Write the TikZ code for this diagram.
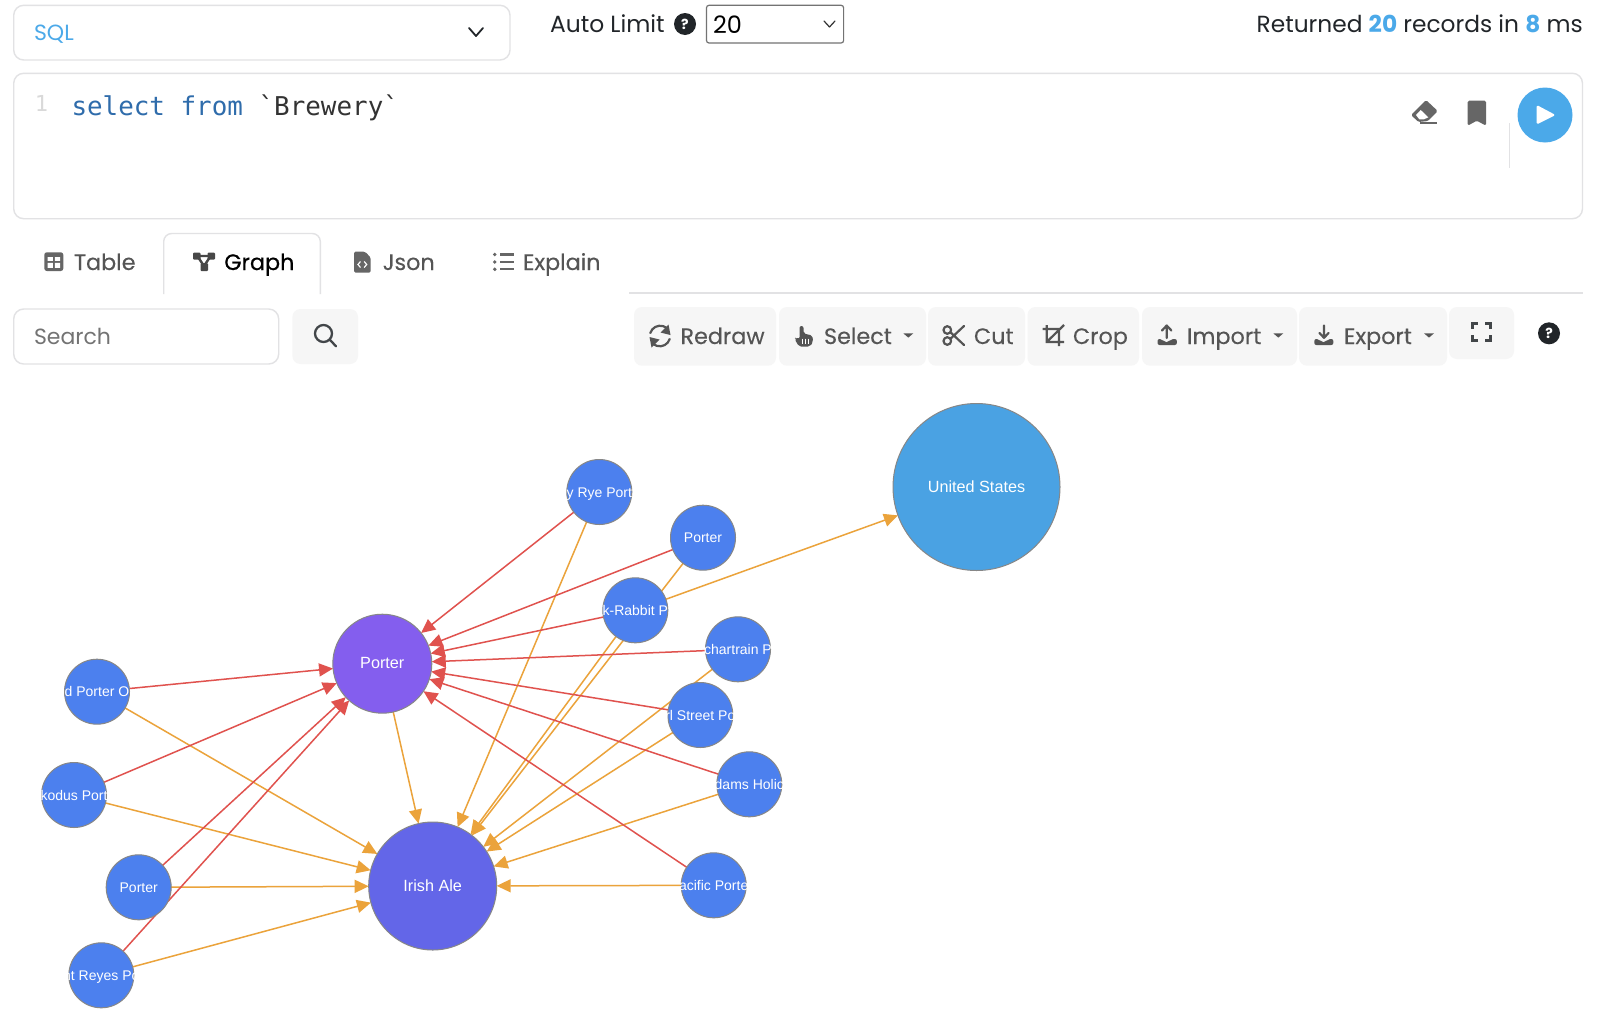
\documentclass[tikz,border=0pt]{standalone}
\usepackage{fontspec}
\setmainfont{Poppins}
\newfontfamily\graphfont{Liberation Sans}
\newfontfamily\codefont{DejaVu Sans Mono}
\newfontfamily\medfont[FakeBold=0.25]{Poppins}
\newfontfamily\semifont[FakeBold=0.6]{Poppins}
\usetikzlibrary{arrows.meta,backgrounds}
\definecolor{uiblue}{HTML}{4BA9E9}
\definecolor{uitext}{HTML}{555555}
\definecolor{uidark}{HTML}{212529}
\definecolor{uifill}{HTML}{F6F6F6}
\definecolor{uiline}{HTML}{E2E2E4}
\definecolor{uiicon}{HTML}{666666}
\definecolor{kwblue}{HTML}{2F6CAB}
\definecolor{edgered}{HTML}{E0524E}
\definecolor{edgeorange}{HTML}{EBA33B}
\definecolor{nodeblue}{HTML}{4C80EE}
\definecolor{nodepurple}{HTML}{845EEE}
\definecolor{nodeindigo}{HTML}{6366E8}
\definecolor{nodesky}{HTML}{4AA2E3}
\newcommand{\fs}[1]{\fontsize{#1}{#1}\selectfont}
\newcommand{\lab}[1]{\makebox[0pt][c]{#1}}
\tikzset{
  x=1pt,y=-1pt,
  gnode/.style={circle,draw=black!47,line width=1pt,inner sep=0pt,outer sep=0pt,text=white,text height=10pt,text depth=0pt,font=\graphfont\fs{14}},
  small/.style={gnode,fill=nodeblue,minimum size=65pt},
  redge/.style={draw=edgered,line width=1.5pt,-{Triangle[length=14pt,width=13pt]}},
  oedge/.style={draw=edgeorange,line width=1.5pt,-{Triangle[length=14pt,width=13pt]}},
  uibox/.style={draw=uiline,line width=1.4pt,fill=white,rounded corners=10pt},
  btn/.style={fill=uifill,rounded corners=8pt},
  lbl/.style={anchor=base west,inner sep=0pt,outer sep=0pt},
  btntext/.style={lbl,text=uitext,font=\medfont\fs{22.3}},
  ico/.style={draw=uitext,line width=2.2pt,line cap=round,line join=round},
  caret/.style={fill=uitext},
}
\begin{document}
\begin{tikzpicture}
\path[use as bounding box] (0,0) rectangle (1600,1023);

% top row
\path[uibox] (13.7,5.3) rectangle (510,60);
\node[lbl,text=uiblue,font=\fs{22}] (sql) at (34,40) {SQL};
\draw[uidark,line width=1.8pt,line cap=round,line join=round] (469,28) -- (476,36) -- (483,28);
\node[lbl,text=uidark,font=\fs{23.4}] (autolimit) at (550,32) {Auto Limit};
\fill[uidark] (685,24) circle (11);
\node[text=white,font=\bfseries\fs{14},inner sep=0pt] (autohelp) at (685,24) {?};
\draw[draw=black!55,fill=white,line width=1.2pt,rounded corners=2.5pt] (706.5,5.3) rectangle (843.6,43);
\node[lbl,text=black,font=\fs{24}] (limit) at (713,33) {20};
\draw[black!80,line width=1.2pt,line cap=round,line join=round] (824,21) -- (829.5,27) -- (835,21);
\node[anchor=base east,inner sep=0pt,text=uidark,font=\fs{23.3}] (returned) at (1583,32) {Returned {\color{uiblue}\bfseries 20} records in {\color{uiblue}\bfseries 8} ms};

% editor
\path[uibox] (13.7,73.3) rectangle (1582.5,218.7);
\node[text=black!15,font=\codefont\fs{22},inner sep=0pt] (lineno) at (41.5,103) {1};
\node[lbl,font=\codefont\fs{25.9}] (code) at (71.5,115) {{\color{kwblue}select from} {\color{black!80}`Brewery`}};
% eraser
\fill[uiicon,rounded corners=1.5pt] (1411,115) -- (1426,100) -- (1437.7,111) -- (1428,121) -- (1418.5,122) -- cycle;
\fill[white] (1416,115) -- (1420.7,110) -- (1428.3,117.3) -- (1424,119.3) -- (1419.3,119.3) -- cycle;
\draw[uiicon,line width=2pt] (1420,122.5) -- (1437.3,122.5);
% bookmark
\fill[uiicon,rounded corners=1.5pt] (1467.7,100.7) -- (1486,100.7) -- (1486,125.7) -- (1476.8,120.7) -- (1467.7,125.7) -- cycle;
\draw[uiline,line width=1.4pt] (1509.7,123) -- (1509.7,168);
\fill[uiblue] (1545,115) circle (27.5);
\fill[white,rounded corners=1.5pt] (1536.7,105) -- (1555.5,115) -- (1536.7,124.5) -- cycle;

% tabs
\draw[uiline,line width=1.4pt,rounded corners=8pt] (163.7,294) -- (163.7,233.5) -- (320.3,233.5) -- (320.3,294);
\draw[uiline,line width=2pt] (629,293) -- (1583,293);
% table icon
\fill[uiicon,rounded corners=2.5pt] (44.3,252.3) rectangle (63.3,271);
\fill[white] (47.5,257) rectangle (52.8,260.8) (54.8,257) rectangle (60.1,260.8) (47.5,262.8) rectangle (52.8,267.8) (54.8,262.8) rectangle (60.1,267.8);
\node[btntext] (ttable) at (74,270) {Table};
% graph icon
\fill[black!72,rounded corners=1pt] (193,252.5) rectangle (200.5,259.5) (207.5,252.5) rectangle (215,259.5) (200.5,263) rectangle (208,271);
\draw[black!72,line width=2.4pt] (198,256) -- (210,256) (198,257) -- (204,266) (210,257) -- (204,266);
\node[lbl,text=black,font=\semifont\fs{22.3}] (tgraph) at (224.3,270) {Graph};
% json icon
\fill[uiicon,rounded corners=1.5pt] (354,251.7) -- (365,251.7) -- (370.7,257.5) -- (370.7,272.7) -- (354,272.7) -- cycle;
\draw[white,line width=1.2pt] (360.5,261.5) -- (358,264.5) -- (360.5,267.5) (364.2,261.5) -- (366.7,264.5) -- (364.2,267.5);
\node[btntext] (tjson) at (382.7,270) {Json};
% explain icon
\fill[uiicon] (494.8,254.5) circle (1.9) (494.8,262) circle (1.9) (494.8,269.3) circle (1.9);
\draw[uiicon,line width=2.2pt] (500,254.5) -- (514,254.5) (500,262) -- (514,262) (500,269.3) -- (514,269.3);
\node[btntext] (texplain) at (523,270) {Explain};

% search
\path[uibox] (13.7,309) rectangle (278.7,364);
\node[lbl,text=black!55,font=\fs{22}] (search) at (34,344) {Search};
\path[btn] (292.4,309) rectangle (358,364);
\draw[uidark!85,line width=2.3pt,line cap=round] (323.5,333.5) circle (8.5) (329.7,339.7) -- (336,346.2);

% toolbar
\path[btn] (634,307) rectangle (776,365.7);
\path[btn] (779,307) rectangle (926,365.7);
\path[btn] (928,307) rectangle (1025,365.7);
\path[btn] (1027.5,307) rectangle (1139,365.7);
\path[btn] (1142,307) rectangle (1297,365.7);
\path[btn] (1299,307) rectangle (1447,365.7);
\path[btn] (1449,307) rectangle (1514,359);
% redraw icon
\draw[ico] (650.3,333) arc (197:320:10.3);
\draw[ico] (669.7,339) arc (17:140:10.3);
\fill[uitext] (668.5,324.5) -- (670.5,335) -- (660.5,332.5) -- cycle (651.5,347.5) -- (649.5,337) -- (659.5,339.5) -- cycle;
\node[btntext] (bredraw) at (680.5,344) {Redraw};
% hand icon
\fill[uitext,rounded corners=2pt] (799.5,326) -- (803.5,326) -- (803.5,333.5) -- (812.5,335.5) -- (813,342) -- (810,346.5) -- (799,346.5) -- (794.5,339) -- (796,337) -- (799.5,339) -- cycle;
\draw[white,line width=.9pt] (802.5,338.5) -- (802.5,344) (805.5,338.5) -- (805.5,344) (808.5,338.5) -- (808.5,344);
\node[btntext] (bselect) at (824,344) {Select};
\fill[caret] (903.3,333.3) -- (913.3,333.3) -- (908.3,337.6) -- cycle;
% scissors icon
\draw[ico] (947.3,330) circle (3.8) (947.3,341) circle (3.8) (950.5,332.3) -- (964,345) (950.5,338.7) -- (964,326);
\node[btntext] (bcut) at (974,344) {Cut};
% crop icon
\draw[ico,line cap=butt,line join=miter] (1046.7,325) -- (1046.7,342) -- (1064,342) (1042.7,329) -- (1059,329) -- (1059,346) (1064,325) -- (1046.7,342);
\node[btntext] (bcrop) at (1073,344) {Crop};
% import icon
\draw[ico] (1166.7,338) -- (1166.7,326) (1162,330.5) -- (1166.7,325.5) -- (1171.4,330.5);
\fill[uitext,rounded corners=2pt] (1157.5,339) -- (1162,339) -- (1164,342) -- (1169,342) -- (1171,339) -- (1176.8,339) -- (1176.8,345) -- (1157.5,345) -- cycle;
\node[btntext] (bimport) at (1187,344) {Import};
\fill[caret] (1273.3,333.3) -- (1283.3,333.3) -- (1278.3,337.6) -- cycle;
% export icon
\draw[ico] (1324,325.5) -- (1324,337) (1319.5,333) -- (1324,337.8) -- (1328.5,333);
\fill[uitext,rounded corners=2pt] (1314.3,339) -- (1319,339) -- (1321,342) -- (1326,342) -- (1328,339) -- (1333.3,339) -- (1333.3,345) -- (1314.3,345) -- cycle;
\node[btntext] (bexport) at (1344,344) {Export};
\fill[caret] (1424,333.3) -- (1434,333.3) -- (1429,337.6) -- cycle;
% fullscreen icon
\draw[uidark!85,line width=2.4pt] (1472.5,329) -- (1472.5,323.5) -- (1478,323.5) (1485,323.5) -- (1490.5,323.5) -- (1490.5,329) (1490.5,335) -- (1490.5,340.5) -- (1485,340.5) (1478,340.5) -- (1472.5,340.5) -- (1472.5,335);
\fill[uidark] (1549,333.3) circle (11);
\node[text=white,font=\bfseries\fs{14},inner sep=0pt] (graphhelp) at (1549,333.3) {?};

% graph nodes
\node[small] (rye) at (599.3,492) {\lab{y Rye Port}};
\node[small] (porterb) at (703,537.7) {\lab{Porter}};
\node[small] (rabbit) at (635.3,610.3) {\lab{k-Rabbit P}};
\node[small] (chartrain) at (738,649.3) {\lab{chartrain P}};
\node[small] (street) at (700.3,715) {\lab{rl Street Po}};
\node[small] (adams) at (749.3,784.3) {\lab{dams Holic}};
\node[small] (pacific) at (713.7,885.3) {\lab{acific Porte}};
\node[small] (oporter) at (97,691.7) {\lab{d Porter O}};
\node[small] (exodus) at (74,795) {\lab{kodus Port}};
\node[small] (porterc) at (138.7,887.3) {\lab{Porter}};
\node[small] (reyes) at (101.3,975.3) {\lab{nt Reyes Po}};
\node[gnode,fill=nodepurple,minimum size=99pt,font=\graphfont\fs{16.2}] (porter) at (382.3,663.7) {Porter};
\node[gnode,fill=nodeindigo,minimum size=128pt,font=\graphfont\fs{16.2}] (irish) at (432.7,886) {Irish Ale};
\node[gnode,fill=nodesky,minimum size=167pt,font=\graphfont\fs{16.2}] (us) at (976.5,487) {United States};

\begin{pgfonlayer}{background}
\fill[white] (0,0) rectangle (1600,1023);
\foreach \n in {rye,porterb,rabbit,chartrain,street,adams,pacific,oporter,exodus,porterc,reyes}{
  \draw[oedge] (\n) -- (irish);
}
\draw[oedge] (porter) -- (irish);
\draw[oedge] (rabbit) -- (us);
\foreach \n in {rye,porterb,rabbit,chartrain,street,adams,pacific,oporter,exodus,porterc,reyes}{
  \draw[redge] (\n) -- (porter);
}
\end{pgfonlayer}
\end{tikzpicture}
\end{document}
